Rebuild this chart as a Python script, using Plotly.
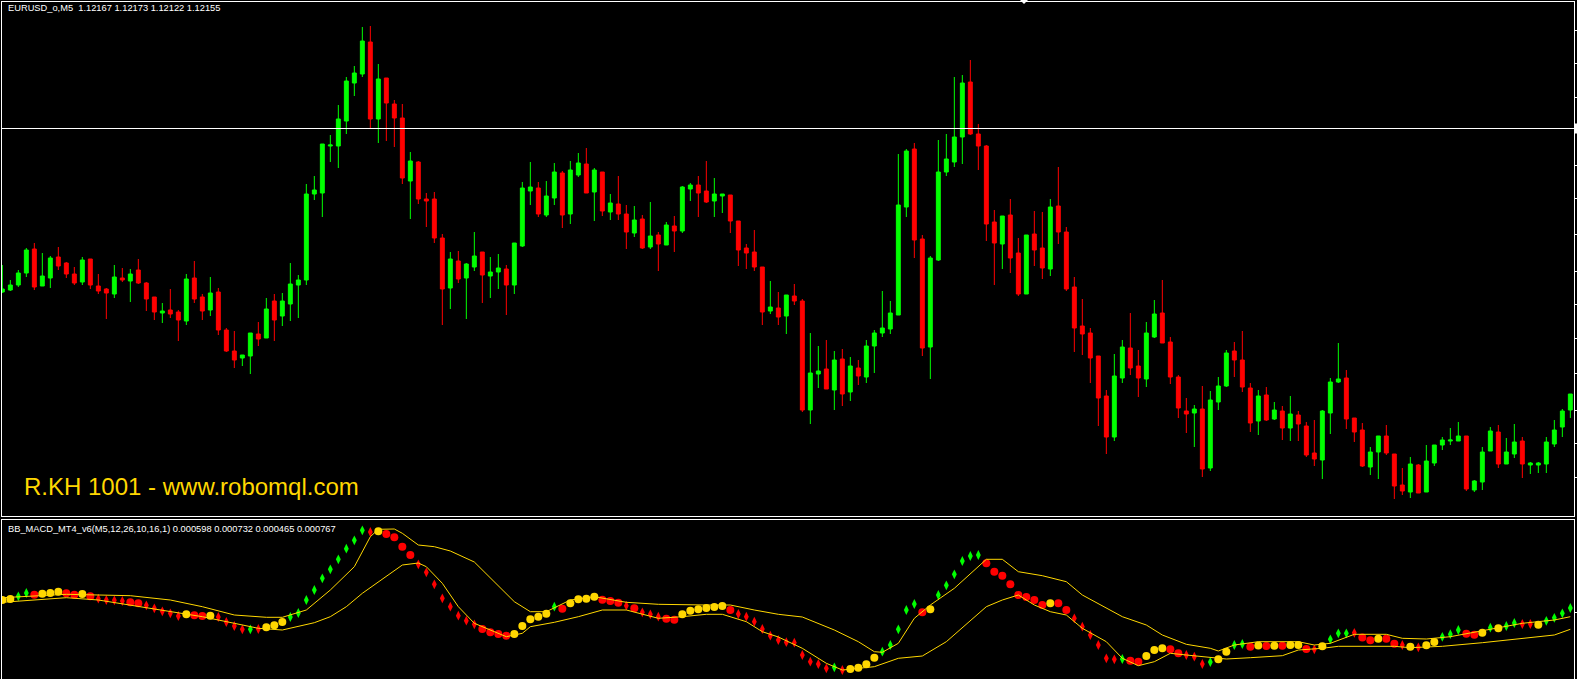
import plotly.graph_objects as go

# ---------------- data ----------------
bars = list(range(197))

open_ = [1.12257, 1.12259, 1.12264, 1.12276, 1.12300, 1.12263, 1.12271, 1.12292, 1.12286, 1.12275,
         1.12267, 1.12290, 1.12263, 1.12260, 1.12255, 1.12271, 1.12268, 1.12279, 1.12266, 1.12252,
         1.12236, 1.12239, 1.12237, 1.12228, 1.12271, 1.12252, 1.12239, 1.12257, 1.12219, 1.12198,
         1.12191, 1.12193, 1.12215, 1.12211, 1.12248, 1.12233, 1.12245, 1.12264, 1.12269, 1.12355,
         1.12356, 1.12403, 1.12403, 1.12428, 1.12466, 1.12475, 1.12507, 1.12430, 1.12471, 1.12445,
         1.12431, 1.12368, 1.12387, 1.12350, 1.12350, 1.12311, 1.12261, 1.12288, 1.12271, 1.12282,
         1.12297, 1.12273, 1.12277, 1.12280, 1.12264, 1.12303, 1.12358, 1.12361, 1.12334, 1.12351,
         1.12376, 1.12335, 1.12374, 1.12385, 1.12357, 1.12377, 1.12337, 1.12345, 1.12335, 1.12316,
         1.12330, 1.12302, 1.12314, 1.12304, 1.12323, 1.12318, 1.12360, 1.12364, 1.12358, 1.12348,
         1.12353, 1.12354, 1.12328, 1.12301, 1.12297, 1.12282, 1.12238, 1.12241, 1.12233, 1.12253,
         1.12248, 1.12139, 1.12175, 1.12180, 1.12159, 1.12190, 1.12157, 1.12181, 1.12172, 1.12203,
         1.12216, 1.12220, 1.12234, 1.12342, 1.12400, 1.12310, 1.12202, 1.12289, 1.12377, 1.12387,
         1.12412, 1.12467, 1.12415, 1.12403, 1.12327, 1.12305, 1.12334, 1.12296, 1.12255, 1.12315,
         1.12301, 1.12280, 1.12343, 1.12317, 1.12262, 1.12223, 1.12216, 1.12193, 1.12153, 1.12112,
         1.12171, 1.12201, 1.12183, 1.12170, 1.12212, 1.12236, 1.12207, 1.12172, 1.12138, 1.12136,
         1.12140, 1.12081, 1.12147, 1.12163, 1.12198, 1.12189, 1.12161, 1.12128, 1.12154, 1.12130,
         1.12138, 1.12121, 1.12134, 1.12123, 1.12096, 1.12089, 1.12136, 1.12167, 1.12171, 1.12131,
         1.12119, 1.12082, 1.12097, 1.12113, 1.12095, 1.12064, 1.12057, 1.12084, 1.12057, 1.12086,
         1.12104, 1.12108, 1.12108, 1.12113, 1.12059, 1.12067, 1.12098, 1.12117, 1.12085, 1.12095,
         1.12108, 1.12084, 1.12084, 1.12085, 1.12105, 1.12122, 1.12139]

high = [1.12284, 1.12269, 1.12279, 1.12301, 1.12306, 1.12296, 1.12293, 1.12302, 1.12287, 1.12282,
        1.12292, 1.12290, 1.12275, 1.12261, 1.12284, 1.12281, 1.12280, 1.12290, 1.12267, 1.12252,
        1.12246, 1.12260, 1.12239, 1.12275, 1.12288, 1.12255, 1.12272, 1.12261, 1.12221, 1.12218,
        1.12194, 1.12216, 1.12227, 1.12251, 1.12255, 1.12256, 1.12286, 1.12274, 1.12365, 1.12373,
        1.12405, 1.12414, 1.12444, 1.12472, 1.12483, 1.12522, 1.12523, 1.12485, 1.12471, 1.12449,
        1.12445, 1.12397, 1.12388, 1.12356, 1.12357, 1.12315, 1.12297, 1.12298, 1.12286, 1.12317,
        1.12297, 1.12292, 1.12295, 1.12284, 1.12306, 1.12367, 1.12387, 1.12367, 1.12368, 1.12386,
        1.12378, 1.12388, 1.12396, 1.12401, 1.12381, 1.12377, 1.12355, 1.12373, 1.12344, 1.12343,
        1.12334, 1.12347, 1.12317, 1.12327, 1.12333, 1.12363, 1.12366, 1.12373, 1.12388, 1.12371,
        1.12355, 1.12354, 1.12328, 1.12305, 1.12319, 1.12282, 1.12268, 1.12257, 1.12254, 1.12265,
        1.12250, 1.12216, 1.12203, 1.12209, 1.12198, 1.12200, 1.12192, 1.12189, 1.12209, 1.12219,
        1.12258, 1.12248, 1.12395, 1.12400, 1.12406, 1.12314, 1.12293, 1.12409, 1.12415, 1.12472,
        1.12474, 1.12489, 1.12425, 1.12404, 1.12339, 1.12333, 1.12350, 1.12311, 1.12314, 1.12338,
        1.12337, 1.12350, 1.12382, 1.12322, 1.12272, 1.12250, 1.12221, 1.12193, 1.12159, 1.12195,
        1.12209, 1.12236, 1.12199, 1.12227, 1.12249, 1.12269, 1.12212, 1.12174, 1.12151, 1.12144,
        1.12163, 1.12158, 1.12172, 1.12199, 1.12207, 1.12218, 1.12166, 1.12159, 1.12162, 1.12147,
        1.12143, 1.12153, 1.12138, 1.12127, 1.12129, 1.12139, 1.12171, 1.12206, 1.12179, 1.12131,
        1.12126, 1.12102, 1.12113, 1.12124, 1.12095, 1.12081, 1.12092, 1.12085, 1.12104, 1.12104,
        1.12112, 1.12121, 1.12127, 1.12113, 1.12069, 1.12102, 1.12122, 1.12124, 1.12111, 1.12125,
        1.12112, 1.12087, 1.12087, 1.12112, 1.12129, 1.12140, 1.12155]

low = [1.12256, 1.12258, 1.12262, 1.12272, 1.12259, 1.12263, 1.12261, 1.12279, 1.12271, 1.12264,
       1.12264, 1.12260, 1.12255, 1.12230, 1.12251, 1.12267, 1.12247, 1.12265, 1.12238, 1.12229,
       1.12226, 1.12231, 1.12208, 1.12224, 1.12246, 1.12229, 1.12233, 1.12214, 1.12197, 1.12181,
       1.12183, 1.12175, 1.12203, 1.12211, 1.12208, 1.12223, 1.12228, 1.12231, 1.12264, 1.12349,
       1.12332, 1.12387, 1.12381, 1.12415, 1.12453, 1.12472, 1.12421, 1.12406, 1.12408, 1.12402,
       1.12365, 1.12330, 1.12345, 1.12322, 1.12306, 1.12224, 1.12240, 1.12266, 1.12230, 1.12278,
       1.12246, 1.12251, 1.12260, 1.12234, 1.12255, 1.12302, 1.12344, 1.12332, 1.12332, 1.12344,
       1.12321, 1.12325, 1.12372, 1.12356, 1.12328, 1.12333, 1.12329, 1.12329, 1.12300, 1.12312,
       1.12300, 1.12300, 1.12278, 1.12304, 1.12297, 1.12316, 1.12348, 1.12332, 1.12346, 1.12332,
       1.12336, 1.12316, 1.12283, 1.12280, 1.12278, 1.12224, 1.12235, 1.12224, 1.12215, 1.12244,
       1.12137, 1.12125, 1.12161, 1.12160, 1.12139, 1.12143, 1.12148, 1.12164, 1.12166, 1.12176,
       1.12212, 1.12215, 1.12234, 1.12332, 1.12291, 1.12193, 1.12170, 1.12288, 1.12373, 1.12382,
       1.12385, 1.12414, 1.12379, 1.12308, 1.12264, 1.12280, 1.12276, 1.12253, 1.12255, 1.12283,
       1.12270, 1.12273, 1.12305, 1.12258, 1.12197, 1.12194, 1.12166, 1.12123, 1.12095, 1.12108,
       1.12166, 1.12174, 1.12152, 1.12162, 1.12211, 1.12206, 1.12165, 1.12131, 1.12116, 1.12102,
       1.12072, 1.12078, 1.12139, 1.12162, 1.12172, 1.12157, 1.12117, 1.12114, 1.12128, 1.12129,
       1.12109, 1.12108, 1.12108, 1.12092, 1.12083, 1.12070, 1.12115, 1.12166, 1.12120, 1.12107,
       1.12082, 1.12074, 1.12070, 1.12094, 1.12050, 1.12054, 1.12051, 1.12056, 1.12057, 1.12083,
       1.12099, 1.12104, 1.12108, 1.12058, 1.12057, 1.12059, 1.12098, 1.12081, 1.12085, 1.12091,
       1.12071, 1.12075, 1.12076, 1.12076, 1.12102, 1.12112, 1.12131]

close = [1.12260, 1.12264, 1.12276, 1.12299, 1.12262, 1.12273, 1.12291, 1.12283, 1.12275, 1.12266,
         1.12289, 1.12264, 1.12258, 1.12256, 1.12272, 1.12269, 1.12275, 1.12266, 1.12250, 1.12237,
         1.12238, 1.12235, 1.12229, 1.12270, 1.12250, 1.12238, 1.12256, 1.12219, 1.12198, 1.12189,
         1.12194, 1.12216, 1.12210, 1.12240, 1.12229, 1.12248, 1.12265, 1.12269, 1.12355, 1.12359,
         1.12405, 1.12404, 1.12430, 1.12468, 1.12476, 1.12508, 1.12430, 1.12470, 1.12446, 1.12431,
         1.12371, 1.12388, 1.12350, 1.12348, 1.12311, 1.12260, 1.12290, 1.12270, 1.12285, 1.12293,
         1.12274, 1.12277, 1.12281, 1.12264, 1.12306, 1.12361, 1.12362, 1.12335, 1.12353, 1.12377,
         1.12334, 1.12379, 1.12386, 1.12356, 1.12379, 1.12338, 1.12346, 1.12335, 1.12317, 1.12329,
         1.12301, 1.12313, 1.12305, 1.12324, 1.12318, 1.12362, 1.12364, 1.12356, 1.12347, 1.12355,
         1.12355, 1.12328, 1.12299, 1.12296, 1.12282, 1.12237, 1.12242, 1.12232, 1.12254, 1.12248,
         1.12139, 1.12176, 1.12178, 1.12160, 1.12189, 1.12155, 1.12183, 1.12173, 1.12203, 1.12216,
         1.12221, 1.12236, 1.12344, 1.12398, 1.12309, 1.12201, 1.12291, 1.12377, 1.12390, 1.12412,
         1.12466, 1.12415, 1.12403, 1.12325, 1.12306, 1.12333, 1.12291, 1.12255, 1.12314, 1.12299,
         1.12281, 1.12342, 1.12317, 1.12260, 1.12221, 1.12215, 1.12191, 1.12151, 1.12112, 1.12173,
         1.12202, 1.12181, 1.12171, 1.12216, 1.12235, 1.12206, 1.12172, 1.12141, 1.12135, 1.12140,
         1.12080, 1.12149, 1.12163, 1.12196, 1.12189, 1.12162, 1.12126, 1.12153, 1.12129, 1.12139,
         1.12121, 1.12135, 1.12125, 1.12094, 1.12090, 1.12138, 1.12167, 1.12170, 1.12130, 1.12117,
         1.12083, 1.12097, 1.12113, 1.12096, 1.12063, 1.12058, 1.12085, 1.12056, 1.12088, 1.12104,
         1.12109, 1.12109, 1.12113, 1.12060, 1.12068, 1.12097, 1.12118, 1.12085, 1.12097, 1.12107,
         1.12085, 1.12086, 1.12086, 1.12107, 1.12119, 1.12138, 1.12155]

macd = [0.000450, 0.000460, 0.000487, 0.000520, 0.000503, 0.000513, 0.000520, 0.000533, 0.000517, 0.000503,
        0.000510, 0.000487, 0.000463, 0.000450, 0.000447, 0.000440, 0.000427, 0.000417, 0.000397, 0.000367,
        0.000337, 0.000317, 0.000290, 0.000307, 0.000297, 0.000290, 0.000293, 0.000280, 0.000230, 0.000190,
        0.000157, 0.000157, 0.000160, 0.000177, 0.000197, 0.000230, 0.000280, 0.000320, 0.000450, 0.000550,
        0.000667, 0.000757, 0.000857, 0.000963, 0.001047, 0.001147, 0.001130, 0.001137, 0.001110, 0.001077,
        0.000983, 0.000900, 0.000807, 0.000727, 0.000607, 0.000467, 0.000383, 0.000293, 0.000243, 0.000207,
        0.000160, 0.000127, 0.000110, 0.000093, 0.000110, 0.000190, 0.000257, 0.000283, 0.000313, 0.000383,
        0.000363, 0.000417, 0.000457, 0.000463, 0.000483, 0.000453, 0.000440, 0.000423, 0.000393, 0.000367,
        0.000327, 0.000307, 0.000283, 0.000263, 0.000253, 0.000307, 0.000343, 0.000357, 0.000370, 0.000380,
        0.000390, 0.000350, 0.000310, 0.000283, 0.000233, 0.000160, 0.000093, 0.000050, 0.000028, 0.000023,
        -0.000100, -0.000167, -0.000190, -0.000233, -0.000223, -0.000250, -0.000240, -0.000227, -0.000193, -0.000127,
        -0.000067, 0.000000, 0.000157, 0.000350, 0.000410, 0.000327, 0.000357, 0.000500, 0.000597, 0.000707,
        0.000840, 0.000890, 0.000900, 0.000817, 0.000733, 0.000693, 0.000607, 0.000500, 0.000480, 0.000450,
        0.000400, 0.000417, 0.000417, 0.000350, 0.000267, 0.000183, 0.000100, 0.000000, -0.000133, -0.000143,
        -0.000140, -0.000157, -0.000167, -0.000110, -0.000050, -0.000033, -0.000043, -0.000083, -0.000100, -0.000117,
        -0.000190, -0.000170, -0.000143, -0.000067, 0.000000, 0.000010, -0.000017, -0.000005, -0.000010, -0.000007,
        -0.000007, 0.000000, 0.000000, -0.000040, -0.000043, -0.000012, 0.000057, 0.000117, 0.000117, 0.000122,
        0.000075, 0.000047, 0.000063, 0.000063, 0.000012, 0.000000, -0.000017, -0.000023, -0.000003, 0.000030,
        0.000082, 0.000108, 0.000150, 0.000113, 0.000103, 0.000123, 0.000173, 0.000167, 0.000190, 0.000220,
        0.000210, 0.000210, 0.000202, 0.000242, 0.000272, 0.000317, 0.000370]

# dot state per bar: Y = gold circle, R = red circle, g = green diamond, r = red diamond
macd_state = ("YYggRYYYRR" "YRrrrrRRrr" "rrrYRRYrrr" "rgrYYYgggg" "ggggggrYRR"
              "RRrrrrrrrr" "RRRRYYYYYg" "RYYYYRRRrR" "rrrRRYYYYY" "YRrrrrrrrr"
              "rrrrgrYYYY" "gggggRYggg" "gggRRRRRRR" "RYRRrrrrrr" "gRRYYYRRrr"
              "rgYYggRYRY" "RYYRrYgggr" "RRYRRrYrYY" "gggRRYgYgg" "rrYgggg")

upper_x = [0, 8, 16, 21, 25, 29, 33, 35, 38, 41, 44, 46, 47, 49, 50, 52, 54, 56, 59, 61,
           64, 66, 68, 71, 74, 78, 82, 88, 91, 94, 97, 100, 104, 107, 109, 110, 112, 114, 116, 119,
           122, 123, 125, 127, 130, 133, 135, 138, 140, 143, 145, 148, 151, 152, 154, 157, 162, 164, 166, 169,
           173, 175, 178, 181, 184, 187, 190, 194, 196]
upper_band = [0.000473, 0.000507, 0.000493, 0.000450, 0.000383, 0.000300, 0.000277, 0.000277, 0.000350, 0.000550,
              0.000783, 0.001083, 0.001157, 0.001160, 0.001117, 0.001000, 0.000983, 0.000940, 0.000830, 0.000667,
              0.000433, 0.000333, 0.000333, 0.000450, 0.000483, 0.000427, 0.000407, 0.000400, 0.000400, 0.000350,
              0.000307, 0.000280, 0.000150, 0.000033, -0.000067, -0.000073, 0.000017, 0.000267, 0.000400, 0.000567,
              0.000783, 0.000857, 0.000857, 0.000733, 0.000693, 0.000633, 0.000500, 0.000367, 0.000283, 0.000200,
              0.000100, 0.000007, -0.000033, -0.000060, 0.000000, 0.000033, 0.000033, 0.000000, 0.000017, 0.000107,
              0.000107, 0.000067, 0.000060, 0.000083, 0.000127, 0.000167, 0.000217, 0.000250, 0.000283]

lower_x = [0, 8, 12, 16, 20, 25, 29, 32, 35, 36, 39, 41, 43, 45, 48, 50, 52, 53, 55, 57,
           59, 61, 63, 65, 66, 69, 72, 75, 78, 82, 85, 88, 90, 93, 95, 97, 100, 103, 105, 109,
           112, 115, 118, 123, 125, 127, 129, 131, 133, 135, 138, 140, 142, 144, 146, 148, 151, 153, 156, 160,
           162, 165, 167, 174, 176, 180, 185, 187, 191, 194, 196]
lower_band = [0.000427, 0.000473, 0.000450, 0.000400, 0.000350, 0.000283, 0.000217, 0.000167, 0.000150, 0.000167,
              0.000223, 0.000283, 0.000383, 0.000517, 0.000683, 0.000800, 0.000820, 0.000783, 0.000617, 0.000383,
              0.000217, 0.000150, 0.000083, 0.000117, 0.000183, 0.000227, 0.000283, 0.000350, 0.000350, 0.000267,
              0.000283, 0.000307, 0.000307, 0.000233, 0.000133, 0.000080, -0.000033, -0.000183, -0.000250, -0.000217,
              -0.000133, -0.000110, 0.000033, 0.000383, 0.000450, 0.000500, 0.000400, 0.000333, 0.000300, 0.000167,
              0.000033, -0.000133, -0.000207, -0.000167, -0.000083, -0.000100, -0.000127, -0.000140, -0.000127, -0.000107,
              -0.000050, -0.000033, -0.000013, -0.000013, -0.000027, -0.000013, 0.000023, 0.000040, 0.000067, 0.000100,
              0.000157]

hline_price = 1.124205
price_ticks = [1.12519, 1.12486, 1.12452, 1.12419, 1.12384, 1.12351, 1.12315,
               1.12278, 1.12245, 1.12211, 1.12176, 1.12139, 1.12106, 1.12072]
macd_ticks = [0.00033]

title_text = "EURUSD_o,M5  1.12167 1.12173 1.12122 1.12155"
ind_text = "BB_MACD_MT4_v6(M5,12,26,10,16,1) 0.000598 0.000732 0.000465 0.000767"
watermark = "R.KH 1001 - www.robomql.com"

# ---------------- styling / geometry ----------------
W, H = 1577, 679
ML, MR, MT, MB = 2, 3, 2, 0
PW, PH = W - ML - MR, H - MT - MB
GREEN, RED, GOLD, WHITE = "#00FF00", "#FF0000", "#FFD700", "#FFFFFF"
FONT = "Liberation Sans"


def px(x, y):
    """pixel -> paper coords"""
    return (x - ML) / PW, (H - MB - y) / PH


main_dom = [(H - MB - 516) / PH, 1.0]
ind_dom = [0.0, (H - MB - 520) / PH]
x_range = [-0.041, -0.041 + PW / 8.0]

sym_map = {"Y": ("circle", GOLD, 8), "R": ("circle", RED, 8),
           "g": ("diamond-tall", GREEN, 7), "r": ("diamond-tall", RED, 7)}
m_sym = [sym_map[c][0] for c in macd_state]
m_col = [sym_map[c][1] for c in macd_state]
m_size = [sym_map[c][2] for c in macd_state]

fig = go.Figure()
fig.add_trace(go.Candlestick(
    x=bars, open=open_, high=high, low=low, close=close,
    increasing=dict(line=dict(color=GREEN, width=1), fillcolor=GREEN),
    decreasing=dict(line=dict(color=RED, width=1), fillcolor=RED),
    whiskerwidth=0, xaxis="x", yaxis="y", showlegend=False, hoverinfo="skip"))

fig.add_trace(go.Scatter(
    x=bars, y=macd, mode="markers", xaxis="x2", yaxis="y2",
    marker=dict(symbol=m_sym, color=m_col, size=m_size, opacity=1, line=dict(width=0)),
    showlegend=False, hoverinfo="skip"))
fig.add_trace(go.Scatter(
    x=upper_x, y=upper_band, mode="lines", xaxis="x2", yaxis="y2",
    line=dict(color=GOLD, width=1), showlegend=False, hoverinfo="skip"))
fig.add_trace(go.Scatter(
    x=lower_x, y=lower_band, mode="lines", xaxis="x2", yaxis="y2",
    line=dict(color=GOLD, width=1), showlegend=False, hoverinfo="skip"))

axis_common = dict(showgrid=False, zeroline=False, showline=True, mirror=True,
                   linecolor=WHITE, linewidth=1)
fig.update_layout(
    width=W, height=H,
    margin=dict(l=ML, r=MR, t=MT, b=MB, pad=0),
    paper_bgcolor="#000000", plot_bgcolor="#000000",
    showlegend=False,
    boxgap=0.3, boxgroupgap=0.3,
    xaxis=dict(domain=[0, 1], range=x_range, anchor="y", showticklabels=False, ticks="",
               rangeslider=dict(visible=False), **axis_common),
    yaxis=dict(domain=main_dom, range=[1.12033, 1.12547], anchor="x", side="right",
               tickvals=price_ticks, ticks="outside", ticklen=3, tickcolor=WHITE,
               showticklabels=False, **axis_common),
    xaxis2=dict(domain=[0, 1], range=x_range, anchor="y2", matches="x",
                showticklabels=False, ticks="", **axis_common),
    yaxis2=dict(domain=ind_dom, range=[-0.00034, 0.00125], anchor="x2", side="right",
                tickvals=macd_ticks, ticks="outside", ticklen=3, tickcolor=WHITE,
                showticklabels=False, **axis_common),
)

# horizontal price line
fig.add_shape(type="line", xref="paper", x0=0, x1=1, yref="y", y0=hline_price, y1=hline_price,
              line=dict(color=WHITE, width=1))
# price-scale marker of the line (right edge)
x0p, _ = px(1575, 0)
x1p, _ = px(1577, 0)
fig.add_shape(type="rect", xref="paper", x0=x0p, x1=x1p, yref="y",
              y0=hline_price - 0.00005, y1=hline_price + 0.00005,
              line=dict(width=0), fillcolor=WHITE)
# chart-shift triangle at the top
ta, tb, tc = px(1020, 0), px(1028, 0), px(1024, 4)
fig.add_shape(type="path", xref="paper", yref="paper",
              path=f"M {ta[0]} {ta[1]} L {tb[0]} {tb[1]} L {tc[0]} {tc[1]} Z",
              fillcolor=WHITE, line=dict(width=0))

ax, ay = px(6, 8)
fig.add_annotation(text=title_text, xref="paper", yref="paper", x=ax, y=ay,
                   xanchor="left", yanchor="middle", showarrow=False,
                   font=dict(family=FONT, size=9.3, color=WHITE))
ax, ay = px(6, 529)
fig.add_annotation(text=ind_text, xref="paper", yref="paper", x=ax, y=ay,
                   xanchor="left", yanchor="middle", showarrow=False,
                   font=dict(family=FONT, size=9.3, color=WHITE))
ax, ay = px(22, 487)
fig.add_annotation(text=watermark, xref="paper", yref="paper", x=ax, y=ay,
                   xanchor="left", yanchor="middle", showarrow=False,
                   font=dict(family=FONT, size=24, color=GOLD))

fig.write_html("out.html", config={"displayModeBar": False},
               post_script="document.body.style.margin='0';document.body.style.padding='0';")
